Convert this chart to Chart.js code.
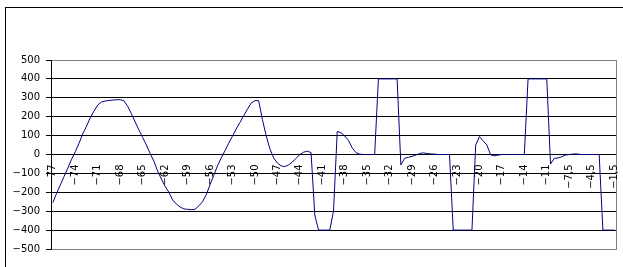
<!DOCTYPE html>
<html>
<head>
<meta charset="utf-8">
<script src="https://cdn.jsdelivr.net/npm/chart.js@4.4.1/dist/chart.umd.min.js"></script>
<style>
  html, body { margin: 0; padding: 0; background: #fff; overflow: hidden; }
  #wrap { position: relative; width: 623px; height: 267px; }
  #frame { position: absolute; left: 5px; top: 7px; width: 700px; height: 400px; border: 1px solid #000; }
  canvas { position: absolute; left: 0; top: 0; }
</style>
</head>
<body>
<div id="wrap">
  <div id="frame"></div>
  <canvas id="chart" width="623" height="267"></canvas>
</div>
<script>
// x categories (Excel style decimal comma), only every 6th one is labelled
var categories = [
    "-77","-76,5","-76","-75,5","-75","-74,5","-74","-73,5","-73","-72,5","-72","-71,5",
    "-71","-70,5","-70","-69,5","-69","-68,5","-68","-67,5","-67","-66,5","-66","-65,5",
    "-65","-64,5","-64","-63,5","-63","-62,5","-62","-61,5","-61","-60,5","-60","-59,5",
    "-59","-58,5","-58","-57,5","-57","-56,5","-56","-55,5","-55","-54,5","-54","-53,5",
    "-53","-52,5","-52","-51,5","-51","-50,5","-50","-49,5","-49","-48,5","-48","-47,5",
    "-47","-46,5","-46","-45,5","-45","-44,5","-44","-43,5","-43","-42,5","-42","-41,5",
    "-41","-40,5","-40","-39,5","-39","-38,5","-38","-37,5","-37","-36,5","-36","-35,5",
    "-35","-34,5","-34","-33,5","-33","-32,5","-32","-31,5","-31","-30,5","-30","-29,5",
    "-29","-28,5","-28","-27,5","-27","-26,5","-26","-25,5","-25","-24,5","-24","-23,5",
    "-23","-22,5","-22","-21,5","-21","-20,5","-20","-19,5","-19","-18,5","-18","-17,5",
    "-17","-16,5","-16","-15,5","-15","-14,5","-14","-13,5","-13","-12,5","-12","-11,5",
    "-11","-10,5","-10","-9,5","-9","-8,5","-7,5","-7","-6,5","-6","-5,5","-5",
    "-4,5","-4","-3,5","-3","-2,5","-2","-1,5"
];
var labelStep = 6;

var values = [
    -255, -205, -161, -116, -72, -25, 15, 60, 110, 150, 195, 230,
    262, 278, 283, 286, 288, 290, 290, 284, 255, 215, 172, 130,
    90, 50, 5, -35, -88, -130, -168, -200, -240, -262, -278, -288,
    -290, -292, -290, -272, -250, -212, -160, -110, -60, -18, 20, 60,
    97, 135, 170, 205, 240, 272, 285, 285, 185, 100, 30, -18,
    -45, -60, -64, -55, -40, -20, 0, 12, 18, 10, -320, -400,
    -400, -400, -400, -300, 122, 115, 98, 75, 35, 10, 2, 0,
    0, 0, 0, 400, 400, 400, 400, 400, 400, -55, -20, -15,
    -10, -3, 5, 9, 5, 3, 2, 0, 0, 0, 0, -400,
    -400, -400, -400, -400, -400, 50, 95, 72, 50, -2, -7, -3,
    0, 0, 0, 0, 0, 0, 0, 400, 400, 400, 400, 400,
    400, -50, -21, -18, -12, -3, 0, 2, 3, 0, 0, 0,
    0, 0, 0, -400, -400, -400, -400
];

var yMin = -500, yMax = 500, yStep = 100;

var labelFont = 'DejaVu Sans';
var labelSize = 10;

// the original prints a real minus sign
function minus(s) {
    return String(s).replace('-', '\u2212');
}

// grey border round the plot area
var plotFrame = {
    id: 'plotFrame',
    beforeDraw: function (chart) {
        var a = chart.chartArea, ctx = chart.ctx;
        ctx.save();
        ctx.strokeStyle = '#808080';
        ctx.lineWidth = 1;
        ctx.strokeRect(a.left + 0.5, a.top + 0.5, a.right - a.left, a.bottom - a.top);
        ctx.restore();
    }
};

// category labels sit under the zero line, turned on their side
var categoryLabels = {
    id: 'categoryLabels',
    afterDatasetsDraw: function (chart) {
        var xs = chart.scales.x, ys = chart.scales.y, ctx = chart.ctx;
        var top = ys.getPixelForValue(0) + 10;
        ctx.save();
        ctx.font = labelSize + 'px "' + labelFont + '"';
        ctx.fillStyle = '#000';
        ctx.textAlign = 'right';
        ctx.textBaseline = 'middle';
        for (var i = 0; i < categories.length; i += labelStep) {
            ctx.save();
            ctx.translate(xs.getPixelForValue(i), top);
            ctx.rotate(-Math.PI / 2);
            ctx.fillText(minus(categories[i]), 0, 0);
            ctx.restore();
        }
        ctx.restore();
    }
};

var ctx = document.getElementById('chart').getContext('2d');
var chart = new Chart(ctx, {
    type: 'line',
    data: {
        labels: categories,
        datasets: [{
            data: values,
            borderColor: '#000080',
            borderWidth: 1,
            pointRadius: 0,
            fill: false,
            tension: 0
        }]
    },
    options: {
        responsive: false,
        animation: false,
        devicePixelRatio: 1,
        layout: { padding: { left: 0, right: 7, top: 60, bottom: 18 } },
        plugins: {
            legend: { display: false },
            tooltip: { enabled: false }
        },
        scales: {
            x: {
                type: 'category',
                offset: true,
                grid: { display: false },
                border: { display: false },
                ticks: { display: false },
                afterFit: function (s) { s.height = 0; }
            },
            y: {
                min: yMin,
                max: yMax,
                ticks: {
                    stepSize: yStep,
                    color: '#000',
                    padding: 6,
                    font: { family: labelFont, size: labelSize },
                    callback: function (v) { return minus(v); }
                },
                grid: {
                    color: function (c) { return Math.abs(c.tick.value) === yMax ? '#808080' : '#000'; },
                    tickColor: '#000',
                    tickLength: 5
                },
                border: { display: true, color: '#000' },
                afterFit: function (s) { s.width = 51; }
            }
        }
    },
    plugins: [plotFrame, categoryLabels]
});
</script>
</body>
</html>
